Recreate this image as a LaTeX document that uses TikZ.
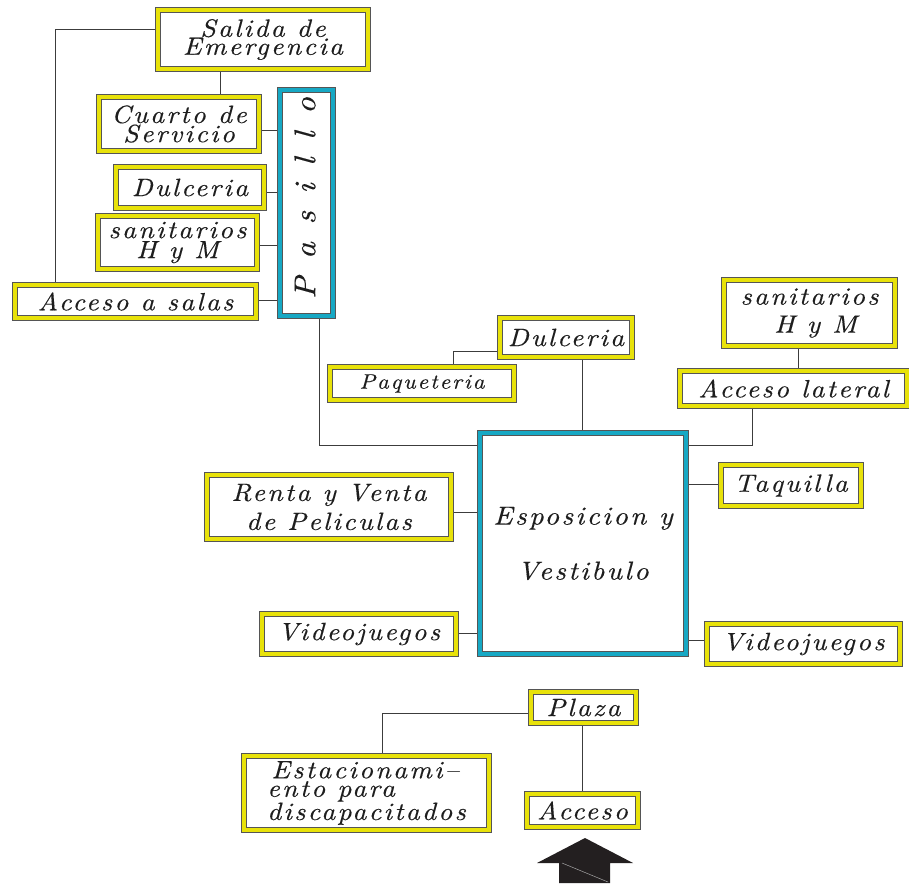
\documentclass[tikz,border=0pt]{standalone}
\usepackage{fontspec}
\newfontfamily\lmit{lmroman10-italic.otf}[LetterSpace=9, FakeStretch=1.1, FakeBold=0.3]
\definecolor{yel}{RGB}{232,226,10}
\definecolor{cya}{RGB}{22,168,196}
\definecolor{frm}{RGB}{85,85,85}
\definecolor{lnk}{RGB}{60,60,60}
\definecolor{arr}{RGB}{35,31,32}
\definecolor{txt}{RGB}{30,30,30}
\newcommand\lf[2]{\fontsize{#1}{#2}\selectfont\lmit}
\newcommand\gp{\hspace{3pt} }
\tikzset{
  frame/.style={draw=frm, line width=0.8pt, double distance=4.6pt, fill=white,
    inner sep=0pt, outer sep=3.1pt, text=txt, align=center},
  ybox/.style={frame, double=yel},
  cbox/.style={frame, double=cya},
  link/.style={draw=lnk, line width=0.9pt},
}
\begin{document}
\begin{tikzpicture}[x=1pt,y=-1pt]
\useasboundingbox (0,0) rectangle (909,883);
% left cluster
\node[ybox, minimum width=209.8pt, minimum height=58.8pt, font=\lf{25}{18}] (salida) at (263,39.5) {Salida de\\Emergencia};
\node[ybox, minimum width=159.8pt, minimum height=53.8pt, font=\lf{25}{18}] (cuarto) at (179,124) {Cuarto de\\Servicio};
\node[ybox, minimum width=147.8pt, minimum height=40.8pt, font=\lf{25}{18}] (dulce1) at (190,187.5) {Dulceria};
\node[ybox, minimum width=158.8pt, minimum height=52.8pt, font=\lf{25}{20}] (sanL) at (177.5,242.5) {sanitarios\\H y M};
\node[ybox, minimum width=240.8pt, minimum height=32.8pt, font=\lf{25}{18}] (salas) at (135.5,301.5) {Acceso a salas};
\node[cbox, minimum width=52.8pt, minimum height=225.8pt] (pasillo) at (306.5,203) {};
\node[rotate=90, font=\lf{30}{30}, text=txt, inner sep=0pt] (pastext) at (305,198) {P\gp a\gp s\gp i\gp l\gp l\gp o};
% centre
\node[cbox, minimum width=205.8pt, minimum height=220.8pt, font=\lf{26}{55}] (expo) at (583,543.5) {Esposicion y\\Vestibulo};
\node[ybox, minimum width=131.8pt, minimum height=38.8pt, font=\lf{25}{18}] (dulce2) at (566,337.5) {Dulceria};
\node[ybox, minimum width=183.8pt, minimum height=32.8pt, font=\lf{21}{18}] (paq) at (422,383.5) {Paqueteria};
\node[ybox, minimum width=170.8pt, minimum height=65.8pt, font=\lf{25}{28}] (sanR) at (809.5,313) {sanitarios\\\ H y M};
\node[ybox, minimum width=226.8pt, minimum height=34.8pt, font=\lf{25}{18}] (lateral) at (793.5,388.5) {Acceso lateral};
\node[ybox, minimum width=139.8pt, minimum height=40.8pt, font=\lf{25}{18}] (taq) at (791,485.5) {Taquilla};
\node[ybox, minimum width=192.8pt, minimum height=39.8pt, font=\lf{25}{18}] (vidR) at (803.5,644) {Videojuegos};
\node[ybox, minimum width=243.8pt, minimum height=63.8pt, font=\lf{25}{29}] (renta) at (329,507) {Renta y Venta\\de Peliculas};
\node[ybox, minimum width=193.8pt, minimum height=39.8pt, font=\lf{25}{18}] (vidL) at (359,634) {Videojuegos};
% bottom
\node[ybox, minimum width=104.8pt, minimum height=30.8pt, font=\lf{25}{18}] (plaza) at (583.5,707.5) {Plaza};
\node[ybox, minimum width=244.8pt, minimum height=73.8pt, font=\lf{25}{18.5}, align=left] (estac) at (366.5,793) {\,Estacionami–\\ento para\\discapacitados};
\node[ybox, minimum width=110.8pt, minimum height=32.8pt, font=\lf{25}{18}] (acceso) at (582.5,810.5) {Acceso};
% connectors
\draw[link] (salida.west |- 0,29) -| (salas.north -| 55,0);
\draw[link] (salida.south -| 220,0) -- (cuarto.north -| 220,0);
\draw[link] (cuarto.east |- 0,130) -- (pasillo.west |- 0,130);
\draw[link] (dulce1.east |- 0,192) -- (pasillo.west |- 0,192);
\draw[link] (sanL.east |- 0,245) -- (pasillo.west |- 0,245);
\draw[link] (salas.east |- 0,300) -- (pasillo.west |- 0,300);
\draw[link] (pasillo.south -| 319,0) |- (expo.west |- 0,445);
\draw[link] (dulce2.south -| 582,0) -- (expo.north -| 582,0);
\draw[link] (dulce2.west |- 0,351) -| (paq.north -| 453,0);
\draw[link] (sanR.south -| 798,0) -- (lateral.north -| 798,0);
\draw[link] (lateral.south -| 752,0) |- (expo.east |- 0,445);
\draw[link] (expo.east |- 0,484) -- (taq.west |- 0,484);
\draw[link] (expo.west |- 0,512) -- (renta.east |- 0,512);
\draw[link] (expo.west |- 0,633) -- (vidL.east |- 0,633);
\draw[link] (expo.east |- 0,640) -- (vidR.west |- 0,640);
\draw[link] (plaza.west |- 0,713) -| (estac.north -| 382,0);
\draw[link] (plaza.south -| 582,0) -- (acceso.north -| 582,0);
% entrance arrow
\fill[arr] (585,838) -- (633,863) -- (610,863) -- (610,883) -- (559,883) -- (559,863) -- (537,863) -- cycle;
\draw[gray!70, line width=0.5pt] (562,863) -- (608,882);
\end{tikzpicture}
\end{document}
